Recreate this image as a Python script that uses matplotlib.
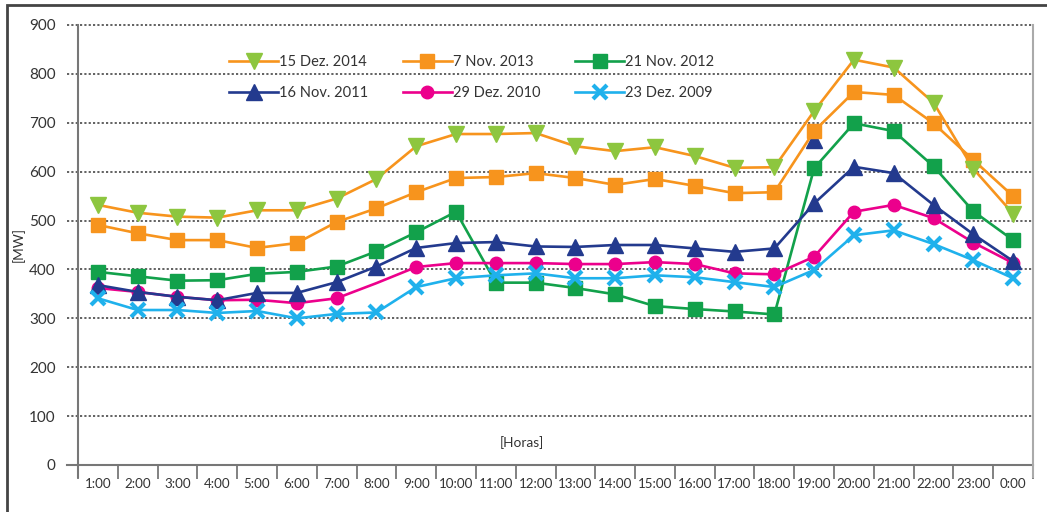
import matplotlib
matplotlib.use("Agg")
import matplotlib.pyplot as plt
from matplotlib.patches import Rectangle

# ---------------- data ----------------
hours = ["1:00", "2:00", "3:00", "4:00", "5:00", "6:00", "7:00", "8:00", "9:00", "10:00",
         "11:00", "12:00", "13:00", "14:00", "15:00", "16:00", "17:00", "18:00", "19:00",
         "20:00", "21:00", "22:00", "23:00", "0:00"]

dez_2014 = [532, 516, 508, 506, 521, 521, 545, 585, 652, 677, 677, 679, 652, 642, 650, 632,
            608, 609, 724, 829, 813, 741, 606, 514]
nov_2013 = [491, 474, 460, 460, 444, 454, 497, 525, 558, 587, 589, 597, 587, 573, 585, 571,
            556, 558, 683, 763, 757, 699, 624, 550]
nov_2012 = [395, 386, 377, 378, 391, 395, 406, 437, 476, 518, 373, 373, 362, 349, 325, 319,
            314, 308, 607, 699, 683, 611, 519, 460]
nov_2011 = [368, 354, 344, 337, 352, 352, 374, 406, 444, 454, 456, 447, 446, 450, 450, 443,
            436, 443, 535, 610, 597, 532, 472, 417]
dez_2010 = [362, 354, 344, 337, 338, 331, 341, 372, 405, 413, 413, 413, 411, 411, 415, 411,
            392, 390, 426, 518, 532, 505, 455, 413]
dez_2009 = [341, 317, 317, 311, 315, 300, 309, 312, 364, 382, 388, 392, 382, 382, 388, 384,
            374, 364, 399, 470, 480, 452, 419, 382]
# stray 2011 marker visible at 19:00 in the original
stray_2011_hour = "19:00"
stray_2011_value = 665

y_ticks = [0, 100, 200, 300, 400, 500, 600, 700, 800, 900]

# ---------------- style ----------------
plt.rcParams["font.family"] = ["Lato", "DejaVu Sans"]

ORANGE = "#F7941D"
LGREEN = "#8DC63F"
GREEN = "#12A14B"
NAVY = "#233A8E"
MAGENTA = "#EC008C"
LBLUE = "#1FB1EC"
TXT = "#333333"

W, H = 1047, 512
fig = plt.figure(figsize=(W / 100, H / 100), dpi=100)
L, R, T, B = 78, 1033, 25, 465
ax = fig.add_axes([L / W, 1 - B / H, (R - L) / W, (B - T) / H])

x = list(range(len(hours)))
lw = 1.9

ax.plot(x, nov_2013, color=ORANGE, lw=lw, marker="s", ms=9.5, mfc=ORANGE, mec=ORANGE,
        label="7 Nov. 2013", zorder=3)
ax.plot(x, dez_2014, color=ORANGE, lw=lw, marker="v", ms=11, mfc=LGREEN, mec=LGREEN,
        label="15 Dez. 2014", zorder=4)
ax.plot(x, nov_2012, color=GREEN, lw=lw, marker="s", ms=9.5, mfc=GREEN, mec=GREEN,
        label="21 Nov. 2012", zorder=3)
ax.plot([hours.index(stray_2011_hour)], [stray_2011_value], ls="none", marker="^", ms=11,
        color=NAVY, zorder=2.5)
ax.plot(x, dez_2010, color=MAGENTA, lw=lw, marker="o", ms=9,
        markevery=[i for i in x if i != 7], label="29 Dez. 2010", zorder=3)
ax.plot(x, nov_2011, color=NAVY, lw=lw, marker="^", ms=11, label="16 Nov. 2011", zorder=3.5)
ax.plot(x, dez_2009, color=LBLUE, lw=lw, marker="x", ms=10, mew=3.0,
        label="23 Dez. 2009", zorder=5)

ax.set_xlim(-0.5, len(hours) - 0.5)
ax.set_ylim(0, 900)

# gridlines (dotted, extending left of the axis)
ext = 11 / (R - L)
for v in y_ticks[1:]:
    ax.plot([-ext, 1], [v / 900, v / 900], transform=ax.transAxes, color="#555555",
            lw=1.3, ls=(0, (1.2, 1.2)), clip_on=False, zorder=1)
ax.plot([-ext, 1], [0, 0], transform=ax.transAxes, color="#777777", lw=1.5,
        clip_on=False, zorder=1)

ax.spines["top"].set_visible(False)
ax.spines["bottom"].set_visible(False)
ax.spines["left"].set_color("#777777")
ax.spines["left"].set_linewidth(1.5)
ax.spines["right"].set_color("#aaaaaa")
ax.spines["right"].set_linewidth(1.5)
ax.spines["left"].set_bounds(-25, 900)
ax.spines["right"].set_bounds(-25, 900)

ax.set_yticks(y_ticks)
ax.set_yticklabels([str(v) for v in y_ticks])
ax.tick_params(axis="y", length=0, pad=16, labelsize=11, labelcolor=TXT)

ax.set_xticks(x)
ax.set_xticklabels(hours)
ax.set_xticks([i - 0.5 for i in range(len(hours) + 1)], minor=True)
ax.tick_params(axis="x", which="major", length=0, pad=9, labelsize=9.6, labelcolor=TXT)
ax.tick_params(axis="x", which="minor", length=10, width=1.3, color="#777777",
               direction="out")

ax.text(0.465, 45 / 900, "[Horas]", transform=ax.transAxes, ha="center", va="center",
        fontsize=9.8, color=TXT)
fig.text(18 / W, 1 - 245 / H, "[MW]", rotation=90, ha="center", va="center",
         fontsize=9.8, color=TXT)

# legend (row-wise order: filled column-wise by matplotlib)
hd, lb = ax.get_legend_handles_labels()
order = ["15 Dez. 2014", "16 Nov. 2011", "7 Nov. 2013", "29 Dez. 2010",
         "21 Nov. 2012", "23 Dez. 2009"]
hmap = dict(zip(lb, hd))
lfs = 10.5
fpx = lfs * 100 / 72
leg = fig.legend([hmap[kk] for kk in order], order, ncol=3, loc="upper left",
                 bbox_to_anchor=(229 / W, 1 - 55 / H), frameon=False, fontsize=lfs,
                 handlelength=49 / fpx, handletextpad=0.05,
                 columnspacing=2.4, labelspacing=32 / fpx - 1.0,
                 borderpad=0, borderaxespad=0)
for t in leg.get_texts():
    t.set_color(TXT)

# outer frame
fig.add_artist(Rectangle((7 / W, -0.1), 2, 1.1 - 5 / H, transform=fig.transFigure,
                         fill=False, ec="#444444", lw=2))

fig.savefig("out.png", dpi=100)
